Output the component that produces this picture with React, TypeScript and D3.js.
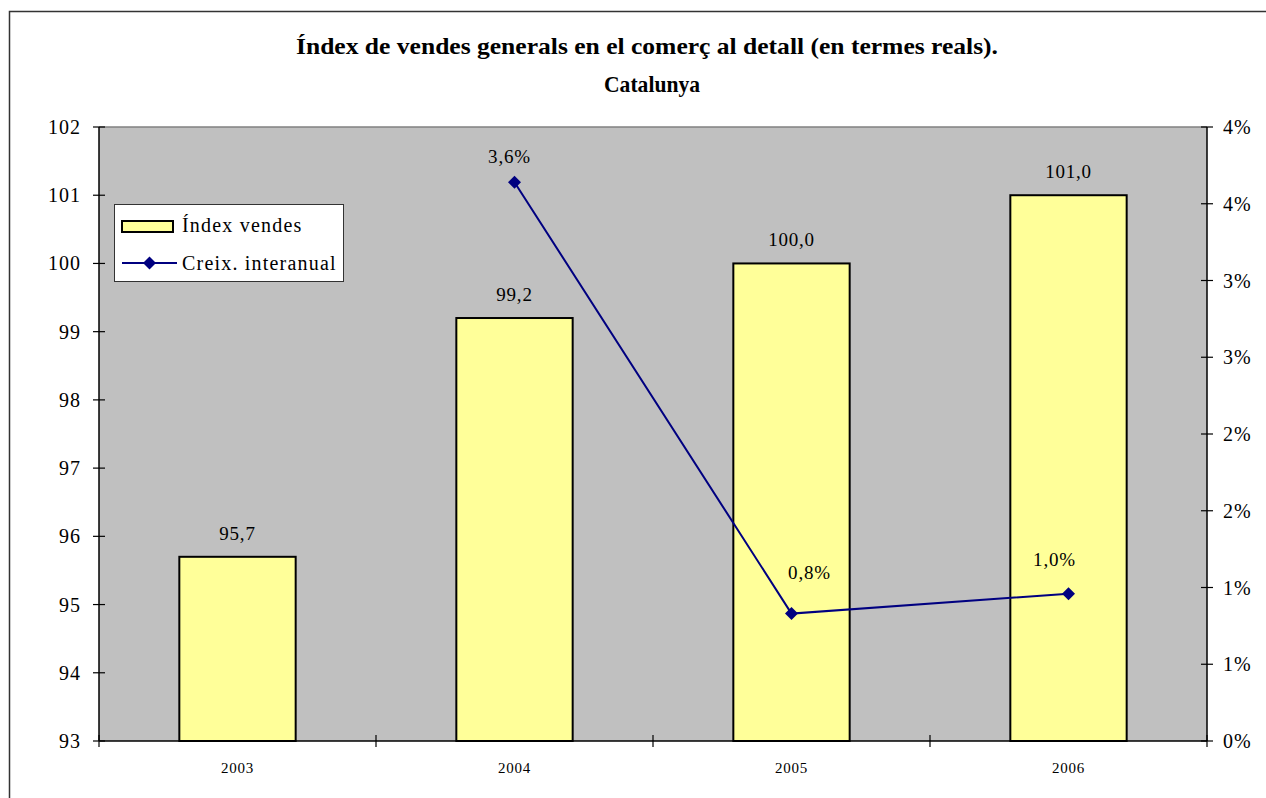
import * as d3 from "d3";

const years = ["2003", "2004", "2005", "2006"];
const indexValues = [95.7, 99.2, 100.0, 101.0];
const growthYears = ["2004", "2005", "2006"];
const growthValues = [0.0364, 0.0083, 0.0096];
const growthLabels = ["3,6%", "0,8%", "1,0%"];
const leftTicks = [93, 94, 95, 96, 97, 98, 99, 100, 101, 102];
const rightTicks = [0, 0.005, 0.01, 0.015, 0.02, 0.025, 0.03, 0.035, 0.04];

const W = 1266;
const H = 798;
const plot = { left: 99, right: 1207, top: 127, bottom: 741 };
const tf = { fontFamily: '"Liberation Serif", "Times New Roman", serif' };

export default function App() {
  const x = d3
    .scaleBand()
    .domain(years)
    .range([plot.left, plot.right])
    .paddingInner(0)
    .paddingOuter(0);
  const yL = d3.scaleLinear().domain([93, 102]).range([plot.bottom, plot.top]);
  const yR = d3.scaleLinear().domain([0, 0.04]).range([plot.bottom, plot.top]);
  const barW = x.bandwidth() * 0.42;
  const cx = (c: string) => (x(c) ?? 0) + x.bandwidth() / 2;

  const pts = growthYears.map((c, i) => [cx(c), yR(growthValues[i])] as [number, number]);
  const line = d3.line()(pts) ?? "";

  // label nudges, as Excel placed them
  const lblOff = [
    [-5, -26],
    [18, -42],
    [-14, -35],
  ];
  const pctFmt = (v: number) => Math.round(v * 100 + 1e-9) + "%";
  const diamond = (px: number, py: number, r: number) =>
    `M${px},${py - r}L${px + r},${py}L${px},${py + r}L${px - r},${py}Z`;

  const boundaries = [...years.map((c) => x(c) ?? 0), plot.right];
  const midX = (plot.left + plot.right) / 2;

  return (
    <svg
      width={W}
      height={H}
      style={{ position: "absolute", left: 0, top: 0, display: "block", background: "#fff" }}
    >
      <rect x={9.5} y={11.5} width={W + 10} height={H + 10} fill="#fff" stroke="#333" strokeWidth={1.5} />

      <text style={tf} x={midX - 6} y={54} textAnchor="middle" fontSize={23} fontWeight="bold" textLength={702} lengthAdjust="spacingAndGlyphs">
        Índex de vendes generals en el comerç al detall (en termes reals).
      </text>
      <text style={tf} x={midX - 1} y={92} textAnchor="middle" fontSize={23} fontWeight="bold" textLength={96} lengthAdjust="spacingAndGlyphs">
        Catalunya
      </text>

      <rect x={plot.left} y={plot.top} width={plot.right - plot.left} height={plot.bottom - plot.top} fill="#c0c0c0" />
      <line x1={plot.left} x2={plot.right} y1={plot.top} y2={plot.top} stroke="#808080" strokeWidth={1.5} />

      {years.map((c, i) => (
        <g key={c}>
          <rect
            x={cx(c) - barW / 2}
            y={yL(indexValues[i])}
            width={barW}
            height={plot.bottom - yL(indexValues[i])}
            fill="#ffff99"
            stroke="#000"
            strokeWidth={2}
          />
          <text style={tf} x={cx(c)} y={yL(indexValues[i]) - 17} textAnchor="middle" fontSize={19} letterSpacing={0.8}>
            {indexValues[i].toFixed(1).replace(".", ",")}
          </text>
          <text style={tf} x={cx(c)} y={773} textAnchor="middle" fontSize={15} letterSpacing={0.8}>
            {c}
          </text>
        </g>
      ))}

      <path d={line} fill="none" stroke="#000080" strokeWidth={2} />
      {pts.map(([px, py], i) => (
        <g key={i}>
          <path d={diamond(px, py, 6.5)} fill="#000080" />
          <text style={tf} x={px + lblOff[i][0]} y={py + lblOff[i][1] + 7} textAnchor="middle" fontSize={19} letterSpacing={0.8}>
            {growthLabels[i]}
          </text>
        </g>
      ))}

      {/* axes */}
      <line x1={plot.left} x2={plot.left} y1={plot.top} y2={plot.bottom} stroke="#000" strokeWidth={1.5} />
      <line x1={plot.right} x2={plot.right} y1={plot.top} y2={plot.bottom} stroke="#000" strokeWidth={1.5} />
      <line x1={plot.left} x2={plot.right} y1={plot.bottom} y2={plot.bottom} stroke="#000" strokeWidth={1.5} />
      {leftTicks.map((t) => (
        <g key={t}>
          <line x1={plot.left - 6} x2={plot.left + 6} y1={yL(t)} y2={yL(t)} stroke="#000" strokeWidth={1.2} />
          <text style={tf} x={plot.left - 18} y={yL(t) + 7} textAnchor="end" fontSize={20} letterSpacing={1}>
            {t}
          </text>
        </g>
      ))}
      {rightTicks.map((t) => (
        <g key={t}>
          <line x1={plot.right - 6} x2={plot.right + 6} y1={yR(t)} y2={yR(t)} stroke="#000" strokeWidth={1.2} />
          <text style={tf} x={plot.right + 16} y={yR(t) + 7} textAnchor="start" fontSize={20} letterSpacing={1}>
            {pctFmt(t)}
          </text>
        </g>
      ))}
      {boundaries.map((b, i) => (
        <line key={i} x1={b} x2={b} y1={plot.bottom - 6} y2={plot.bottom + 6} stroke="#000" strokeWidth={1.2} />
      ))}

      {/* legend */}
      <g>
        <rect x={114.5} y={204.5} width={229} height={77} fill="#fff" stroke="#333" strokeWidth={1} />
        <rect x={122} y={221} width={51} height={11} fill="#ffff99" stroke="#000" strokeWidth={2} />
        <text style={tf} x={182} y={232} fontSize={20} letterSpacing={1.2}>
          Índex vendes
        </text>
        <line x1={122} x2={177} y1={263} y2={263} stroke="#000080" strokeWidth={2} />
        <path d={diamond(149.5, 263, 6.5)} fill="#000080" />
        <text style={tf} x={182} y={270} fontSize={20} letterSpacing={1.2}>
          Creix. interanual
        </text>
      </g>
    </svg>
  );
}
